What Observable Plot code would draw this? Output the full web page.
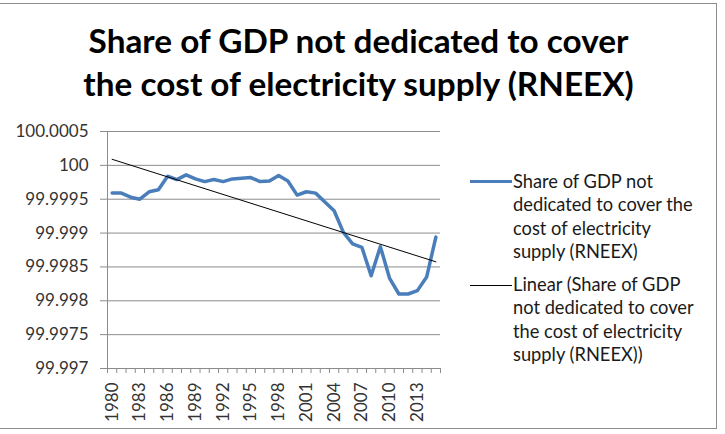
<!DOCTYPE html>
<html>
<head>
<meta charset="utf-8">
<script src="https://cdn.jsdelivr.net/npm/d3@7"></script>
<script src="https://cdn.jsdelivr.net/npm/@observablehq/plot@0.6"></script>
<style>
  html, body { margin: 0; padding: 0; background: #fff; }
  #wrap { position: relative; width: 725px; height: 434px; overflow: hidden; background: #fff; font-family: Lato, "Open Sans", sans-serif; }
  #frame { position: absolute; left: -6px; top: 3px; width: 723px; height: 426px; border: 1.5px solid #8c8c8c; box-sizing: border-box; }
  #title { position: absolute; left: 0; top: 19px; width: 717px; text-align: center; font-weight: 700; font-size: 33.3px; line-height: 43px; color: #000; }
  #chart { position: absolute; left: 0; top: 0; }
  .leg { position: absolute; left: 470px; font-size: 18.3px; line-height: 23.3px; color: #1a1a1a; }
  .leg .sw { position: absolute; left: 0; width: 42px; top: 11px; }
  .leg .txt { position: absolute; left: 43px; top: 0; white-space: nowrap; }
</style>
</head>
<body>
<div id="wrap">
  <div id="frame"></div>
  <div id="chart"></div>
  <div id="title">Share of GDP not dedicated to cover<br>the cost of electricity supply (RNEEX)</div>
  <div class="leg" style="top:170px">
    <div class="sw" style="border-top:3.5px solid #4A7EBB; top:10px"></div>
    <div class="txt">Share of GDP not<br>dedicated to cover the<br>cost of electricity<br>supply (RNEEX)</div>
  </div>
  <div class="leg" style="top:273px">
    <div class="sw" style="border-top:1px solid #000; top:12px"></div>
    <div class="txt">Linear (Share of GDP<br>not dedicated to cover<br>the cost of electricity<br>supply (RNEEX))</div>
  </div>
</div>
<script>
const seriesName = "Share of GDP not dedicated to cover the cost of electricity supply (RNEEX)";
const years = [1980, 1981, 1982, 1983, 1984, 1985, 1986, 1987, 1988, 1989,
               1990, 1991, 1992, 1993, 1994, 1995, 1996, 1997, 1998, 1999,
               2000, 2001, 2002, 2003, 2004, 2005, 2006, 2007, 2008, 2009,
               2010, 2011, 2012, 2013, 2014, 2015];
const values = [99.99959, 99.99959, 99.99953, 99.99950, 99.99961, 99.99964, 99.99984, 99.99979, 99.99986, 99.99980,
                99.99976, 99.99979, 99.99976, 99.99980, 99.99981, 99.99982, 99.99976, 99.99977, 99.99985, 99.99977,
                99.99956, 99.99961, 99.99959, 99.99946, 99.99933, 99.99901, 99.99884, 99.99879, 99.99837, 99.99880,
                99.99833, 99.99810, 99.99810, 99.99815, 99.99835, 99.99894];
const xTickLabels = [1980, 1983, 1986, 1989, 1992, 1995, 1998, 2001, 2004, 2007, 2010, 2013];
const yTicks = [99.997, 99.9975, 99.998, 99.9985, 99.999, 99.9995, 100, 100.0005];

const data = years.map((year, i) => ({year, value: values[i]}));
const boundaries = years.map(y => y - 0.5).concat([years[years.length - 1] + 0.5]);
const grid = "#8c8c8c";
const fmt = d => String(+d.toFixed(4));

const chart = Plot.plot({
  width: 725,
  height: 434,
  marginTop: 131,
  marginBottom: 66,
  marginLeft: 107,
  marginRight: 285,
  style: {fontFamily: "Lato, 'Open Sans', sans-serif", fontSize: "17px", color: "#333", background: "transparent"},
  x: {type: "linear", domain: [boundaries[0], boundaries[boundaries.length - 1]]},
  y: {domain: [yTicks[0], yTicks[yTicks.length - 1]]},
  marks: [
    Plot.ruleY(yTicks.slice(1), {stroke: grid, strokeWidth: 1}),
    Plot.ruleY([yTicks[0]], {stroke: grid, strokeWidth: 1}),
    Plot.ruleX([boundaries[0]], {stroke: grid, strokeWidth: 1}),
    Plot.axisY({ticks: yTicks, tickFormat: fmt, tickSize: 7, tickPadding: 12, stroke: grid, fontSize: 17, fill: "#333", label: null}),
    Plot.axisX({ticks: boundaries, tickFormat: () => "", tickSize: 5, stroke: grid, label: null}),
    Plot.axisX({ticks: xTickLabels, tickFormat: d => String(d), tickSize: 0, tickRotate: -90, tickPadding: 14, fontSize: 17, fill: "#333", label: null}),
    Plot.line(data, {x: "year", y: "value", stroke: "#4A7EBB", strokeWidth: 3.5, strokeLinejoin: "round", strokeLinecap: "round"}),
    Plot.linearRegressionY(data, {x: "year", y: "value", stroke: "#000", strokeWidth: 1, ci: 0})
  ]
});
document.getElementById("chart").appendChild(chart);
</script>
</body>
</html>
